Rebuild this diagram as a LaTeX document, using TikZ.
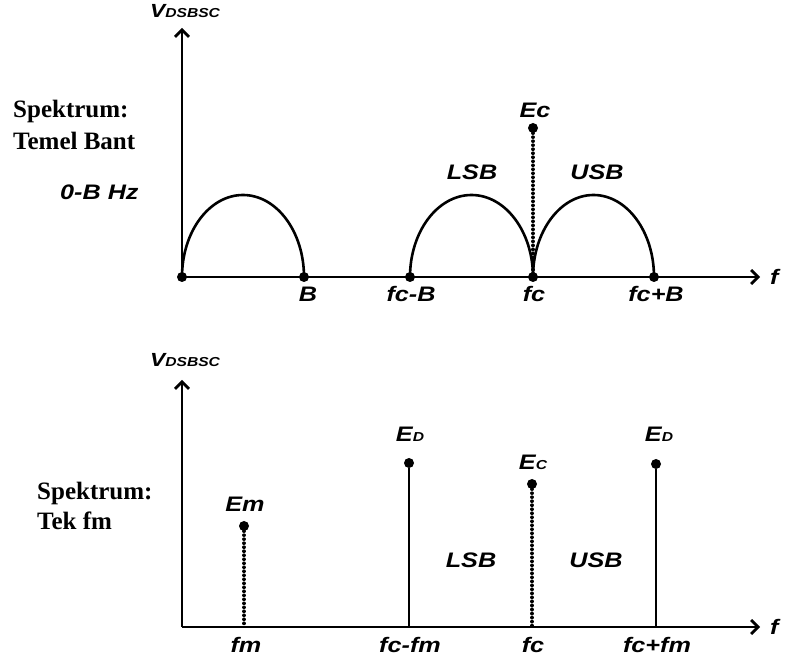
\documentclass[tikz,border=0pt]{standalone}
\usepackage{fontspec}
\setmainfont{Liberation Serif}
\setsansfont{Liberation Sans}
\usetikzlibrary{arrows.meta}
\newcommand\stx[1]{\scalebox{1.2}[1]{#1}}
\newcommand\smc[1]{{\fontsize{13}{13}\selectfont #1}}
\tikzset{
  axisline/.style={line width=2.8pt, -{Straight Barb[length=7pt,width=14pt]}},
  curve/.style={line width=2.6pt},
  solidline/.style={line width=2.8pt},
  dotline/.style={line width=3.6pt, line cap=round, dash pattern=on 0.01pt off 4pt},
  dot/.style={circle, fill=black, inner sep=0pt, minimum size=10pt},
  lab/.style={font=\sffamily\bfseries\itshape\fontsize{21}{21}\selectfont, anchor=base, inner sep=0pt},
  vlab/.style={font=\sffamily\bfseries\itshape\fontsize{19}{19}\selectfont, anchor=base west, inner sep=0pt},
  ser/.style={font=\rmfamily\bfseries\fontsize{25}{25}\selectfont, anchor=base west, inner sep=0pt}
}
\begin{document}
\begin{tikzpicture}[x=1pt,y=1pt]
\useasboundingbox (0,0) rectangle (787,664);
% ---------- top panel ----------
\coordinate (o1) at (182,387);
\coordinate (x1) at (760,387);
\coordinate (y1) at (182,636);
\draw[axisline] (o1) -- (y1);
\draw[axisline] (o1) -- (x1);
\node[vlab] (v1) at (150,646) {\stx{V\smc{DSBSC}}};
\node[lab, anchor=west] (f1) at (770,387) {\stx{f}};
\node[ser] (s1) at (13,546) {Spektrum:};
\node[ser] (t1) at (13,514) {Temel Bant};
\node[lab, anchor=base west] (hz) at (60,464) {\stx{0-B Hz}};
\node[dot] (d0) at (182,387) {};
\node[dot] (d1) at (304,387) {};
\node[dot] (d2) at (410,387) {};
\node[dot] (d3) at (533,387) {};
\node[dot] (d4) at (654,387) {};
\draw[curve] (d0.center) arc[start angle=180,end angle=0,x radius=61pt,y radius=82pt];
\draw[curve] (d2.center) arc[start angle=180,end angle=0,x radius=61.5pt,y radius=82pt];
\draw[curve] (d3.center) arc[start angle=180,end angle=0,x radius=60.5pt,y radius=82pt];
\node[dot] (ec1) at (533,536) {};
\draw[dotline] (ec1) -- (d3.center);
\node[lab] (ecl1) at (535,546) {\stx{Ec}};
\node[lab] (lsb1) at (472,484) {\stx{LSB}};
\node[lab] (usb1) at (597,484) {\stx{USB}};
\node[lab] (lb) at (308,362) {\stx{B}};
\node[lab] (lfcb) at (411,362) {\stx{fc-B}};
\node[lab] (lfc1) at (534,362) {\stx{fc}};
\node[lab] (lfcpb) at (656,362) {\stx{fc+B}};
% ---------- bottom panel ----------
\coordinate (o2) at (182,37);
\coordinate (x2) at (760,37);
\coordinate (y2) at (182,284);
\draw[axisline] (o2) -- (y2);
\draw[axisline] (o2) -- (x2);
\node[vlab] (v2) at (150,297) {\stx{V\smc{DSBSC}}};
\node[lab, anchor=west] (f2) at (770,37) {\stx{f}};
\node[ser] (s2) at (37,164) {Spektrum:};
\node[ser] (t2) at (37,134) {Tek fm};
\coordinate (a1) at (244,37);
\coordinate (a2) at (409,37);
\coordinate (a3) at (532,37);
\coordinate (a4) at (656,37);
\node[dot] (em) at (244,138) {};
\node[dot] (ed1) at (409,201) {};
\node[dot] (ec2) at (532,180) {};
\node[dot] (ed2) at (656,200) {};
\draw[dotline] (em) -- (a1);
\draw[solidline] (ed1) -- (a2);
\draw[dotline] (ec2) -- (a3);
\draw[solidline] (ed2) -- (a4);
\node[lab] (eml) at (245,152) {\stx{Em}};
\node[lab] (edl1) at (410,222) {\stx{E\smc{D}}};
\node[lab] (ecl2) at (533,194) {\stx{E\smc{C}}};
\node[lab] (edl2) at (659,222) {\stx{E\smc{D}}};
\node[lab] (lsb2) at (471,96) {\stx{LSB}};
\node[lab] (usb2) at (596,96) {\stx{USB}};
\node[lab] (lfm) at (246,12) {\stx{fm}};
\node[lab] (lfcfm) at (410,12) {\stx{fc-fm}};
\node[lab] (lfc2) at (533,12) {\stx{fc}};
\node[lab] (lfcpfm) at (657,12) {\stx{fc+fm}};
\end{tikzpicture}
\end{document}
